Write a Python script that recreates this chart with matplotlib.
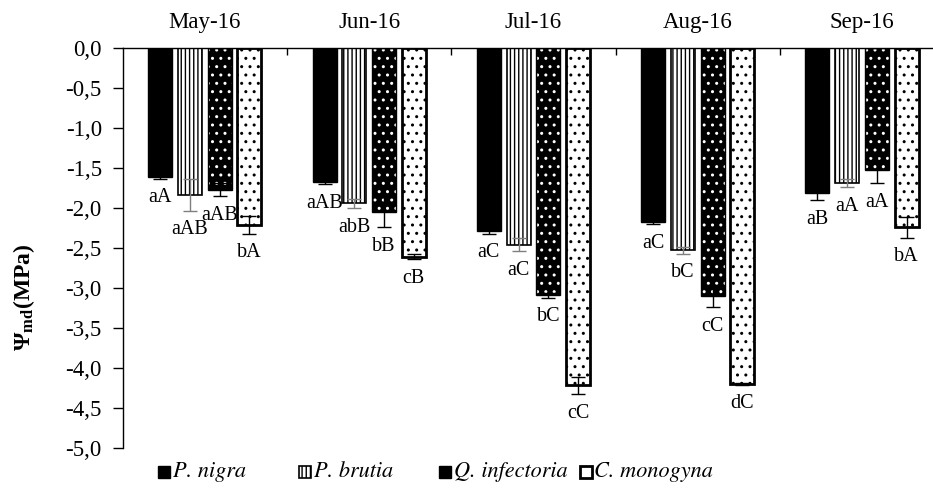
import numpy as np
import matplotlib
matplotlib.use('Agg')
import matplotlib.pyplot as plt
from matplotlib.patches import Rectangle
from matplotlib import font_manager

plt.rcParams['font.family'] = ['Liberation Serif', 'DejaVu Serif']
plt.rcParams['mathtext.fontset'] = 'custom'
plt.rcParams['mathtext.rm'] = 'Liberation Serif'
plt.rcParams['mathtext.bf'] = 'Liberation Serif:bold'
plt.rcParams['hatch.linewidth'] = 1.0

months = ['May-16', 'Jun-16', 'Jul-16', 'Aug-16', 'Sep-16']
species = ['P. nigra', 'P. brutia', 'Q. infectoria', 'C. monogyna']

p_nigra = [-1.61, -1.67, -2.29, -2.17, -1.81]
p_nigra_err = [0.02, 0.03, 0.03, 0.03, 0.09]
p_brutia = [-1.83, -1.94, -2.46, -2.53, -1.69]
p_brutia_err = [0.20, 0.06, 0.08, 0.04, 0.05]
q_inf = [-1.77, -2.05, -3.09, -3.10, -1.52]
q_inf_err = [0.08, 0.19, 0.03, 0.14, 0.17]
c_mon = [-2.21, -2.61, -4.22, -4.20, -2.24]
c_mon_err = [0.11, 0.03, 0.11, 0.01, 0.13]

nigra_lbl = ['aA', 'aAB', 'aC', 'aC', 'aB']
brutia_lbl = ['aAB', 'abB', 'aC', 'bC', 'aA']
qinf_lbl = ['aAB', 'bB', 'bC', 'cC', 'aA']
cmon_lbl = ['bA', 'cB', 'cC', 'dC', 'bA']

yticks = [0, -0.5, -1, -1.5, -2, -2.5, -3, -3.5, -4, -4.5, -5]

values = [p_nigra, p_brutia, q_inf, c_mon]
errors = [p_nigra_err, p_brutia_err, q_inf_err, c_mon_err]
letters = [nigra_lbl, brutia_lbl, qinf_lbl, cmon_lbl]

# Times-like italic for species names: STIX ships with matplotlib
ital = font_manager.FontProperties(family='STIXGeneral', style='italic', size=16)

fig = plt.figure(figsize=(9.33, 4.96), dpi=100)
ax = fig.add_axes([0.1315, 0.0974, 0.8805, 0.805])

x = np.arange(len(months))
w = 0.146
step = 0.181
offsets = [-1.5 * step, -0.5 * step, 0.5 * step, 1.5 * step]

for i in range(4):
    xi = x + offsets[i]
    v = np.array(values[i])
    e = np.array(errors[i])
    if i == 0:
        ax.bar(xi, v, w, color='black', edgecolor='black', lw=1)
        ecol = 'black'
    elif i == 1:
        ax.bar(xi, v, w, color='white', edgecolor='black', hatch='||||', lw=1.2)
        ecol = '#7f7f7f'
    elif i == 2:
        ax.bar(xi, v, w, color='black', edgecolor='white', hatch='..', lw=0)
        ax.bar(xi, v, w, fill=False, edgecolor='black', lw=1)
        ecol = 'black'
    else:
        ax.bar(xi, v, w, color='white', edgecolor='black', hatch='..', lw=2)
        ecol = 'black'
    ax.errorbar(xi, v, yerr=e, fmt='none', ecolor=ecol, elinewidth=1,
                capsize=5, capthick=1, zorder=3)
    for j in range(len(months)):
        ax.annotate(letters[i][j], (xi[j], v[j] - e[j]), xytext=(0, -7),
                    textcoords='offset points', ha='center', va='top',
                    fontsize=14.5)

ax.set_xlim(-0.5, 4.5)
ax.set_ylim(-5, 0)

ax.set_yticks(yticks)
ax.set_yticklabels([('%.1f' % t).replace('.', ',') for t in yticks], fontsize=16.5)
ax.tick_params(axis='y', direction='out', length=7, width=1, pad=8)

ax.set_xticks(x)
ax.set_xticklabels(months, fontsize=16.5)
ax.set_xticks(x[:-1] + 0.5, minor=True)
ax.tick_params(axis='x', which='major', top=True, labeltop=True, bottom=False,
               labelbottom=False, length=0, pad=11)
ax.tick_params(axis='x', which='minor', top=True, bottom=False, direction='in',
               length=5, width=1)

ax.spines['right'].set_visible(False)
ax.spines['bottom'].set_visible(False)
ax.spines['top'].set_linewidth(1)
ax.spines['left'].set_linewidth(1)

fig.text(0.026, 1 - 297 / 496, r'$\mathbf{\Psi_{md}(MPa)}$', rotation=90,
         ha='center', va='center', fontsize=17)

# legend drawn by hand so the entries sit on an even grid like the original
leg_y = 1 - 472 / 496
for k, name in enumerate(species):
    lx = (158 + k * 140.5) / 933
    sw, sh = 12 / 933, 12 / 496
    if k == 0:
        r = Rectangle((lx, leg_y - sh / 2), sw, sh, transform=fig.transFigure,
                      facecolor='black', edgecolor='black', lw=1)
    elif k == 1:
        r = Rectangle((lx, leg_y - sh / 2), sw, sh, transform=fig.transFigure,
                      facecolor='white', edgecolor='black', hatch='||||', lw=1.2)
    elif k == 2:
        r = Rectangle((lx, leg_y - sh / 2), sw, sh, transform=fig.transFigure,
                      facecolor='black', edgecolor='black', lw=1)
    else:
        r = Rectangle((lx, leg_y - sh / 2), sw, sh, transform=fig.transFigure,
                      facecolor='white', edgecolor='black', lw=2)
    fig.add_artist(r)
    fig.text(lx + 15 / 933, leg_y, name, ha='left', va='center',
             fontproperties=ital)

fig.savefig('out.png', dpi=100)
